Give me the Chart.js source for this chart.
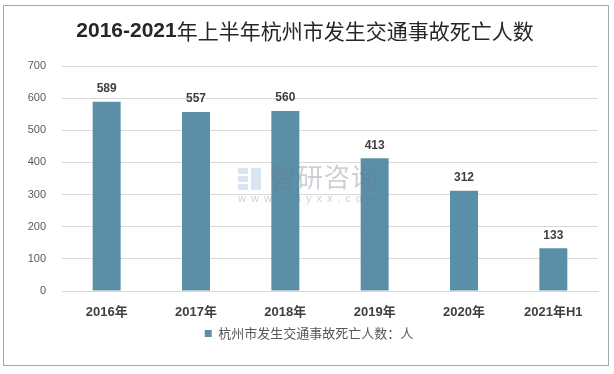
<!DOCTYPE html>
<html>
<head>
<meta charset="utf-8">
<script src="https://cdn.jsdelivr.net/npm/chart.js@4"></script>
<style>
  html, body { margin: 0; padding: 0; background: #fff; }
  #wrap { width: 614px; height: 374px; }
</style>
</head>
<body>
<div id="wrap"><canvas id="myChart"></canvas></div>
<script>
// data
const titleBold = '2016-2021';
const titleRest = '年上半年杭州市发生交通事故死亡人数';
const years = ['2016年', '2017年', '2018年', '2019年', '2020年', '2021年H1'];
const deaths = [589, 557, 560, 413, 312, 133];
const seriesName = '杭州市发生交通事故死亡人数：人';
const yMin = 0, yMax = 700, yStep = 100;
const markText = '智研咨询';
const markSite = 'www.chyxx.com';

const latin = '"Liberation Sans", "Noto Sans CJK SC", sans-serif';
const cjk = '"Noto Sans CJK SC", "Liberation Sans", sans-serif';

// frame, title and watermark
const decor = {
   id: 'decor',
   beforeDraw(chart) {
      const c = chart.ctx;
      c.save();
      c.fillStyle = '#fff';
      c.fillRect(0, 0, chart.width, chart.height);
      c.strokeStyle = '#a6a6a6';
      c.lineWidth = 1;
      c.strokeRect(3.5, 5.5, 605, 360);

      c.textBaseline = 'middle';
      c.fillStyle = '#262626';
      const f1 = 'bold 21px ' + latin;
      const f2 = '21px ' + cjk;
      c.font = f1; const w1 = c.measureText(titleBold).width;
      c.font = f2; const w2 = c.measureText(titleRest).width;
      let x = 305 - (w1 + w2) / 2;
      c.textAlign = 'left';
      c.font = f1; c.fillText(titleBold, x, 31);
      c.font = f2; c.fillText(titleRest, x + w1, 31);
      c.restore();
   },
   afterDatasetsDraw(chart) {
      const c = chart.ctx;
      c.save();
      // watermark
      c.fillStyle = 'rgba(110,120,135,0.35)';
      c.textBaseline = 'middle';
      c.textAlign = 'left';
      c.font = '26px ' + cjk;
      c.letterSpacing = '1px';
      c.fillText(markText, 270, 177);
      c.font = '11px ' + latin;
      c.letterSpacing = '5px';
      c.fillText(markSite, 238, 199);
      c.letterSpacing = '0px';
      c.fillStyle = 'rgba(150,180,220,0.35)';
      c.fillRect(238, 168, 10, 6);
      c.fillRect(238, 176, 10, 6);
      c.fillRect(238, 184, 10, 6);
      c.fillRect(251, 168, 10, 22);
      // value labels
      c.fillStyle = '#404040';
      c.font = 'bold 12px ' + latin;
      c.textAlign = 'center';
      const meta = chart.getDatasetMeta(0);
      meta.data.forEach((bar, i) => {
         c.fillText(String(deaths[i]), bar.x, bar.y - 13);
      });
      c.restore();
   }
};

const ctx = document.getElementById('myChart');
const myChart = new Chart(ctx, {
   type: 'bar',
   data: {
      labels: years,
      datasets: [{
         label: seriesName,
         data: deaths,
         backgroundColor: '#5b8fa8',
         borderWidth: 0,
         categoryPercentage: 1,
         barPercentage: 0.313
      }]
   },
   options: {
      responsive: true,
      maintainAspectRatio: false,
      animation: false,
      devicePixelRatio: 1,
      layout: {
         padding: { left: 20, right: 16, top: 66, bottom: 24 }
      },
      scales: {
         x: {
            afterFit(scale) { scale.height = 28; },
            grid: { display: false, drawTicks: false },
            border: { color: '#d9d9d9' },
            ticks: {
               color: '#404040',
               font: { family: latin, size: 13, weight: 'bold' },
               padding: 14,
               maxRotation: 0
            }
         },
         y: {
            min: yMin,
            max: yMax,
            afterFit(scale) { scale.width = 42; },
            grid: { color: '#d9d9d9', drawTicks: false },
            border: { display: false },
            ticks: {
               stepSize: yStep,
               color: '#595959',
               font: { family: latin, size: 11 },
               padding: 16
            }
         }
      },
      plugins: {
         legend: {
            display: true,
            position: 'bottom',
            labels: {
               color: '#595959',
               font: { family: cjk, size: 13 },
               boxWidth: 7,
               boxHeight: 7,
               padding: 8
            }
         },
         title: { display: false },
         tooltip: { enabled: false }
      }
   },
   plugins: [decor]
});
</script>
</body>
</html>
